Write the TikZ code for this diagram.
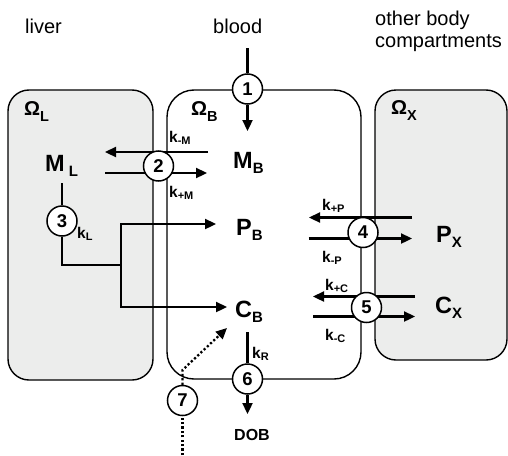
\documentclass[tikz,border=0pt]{standalone}
\usepackage{fontspec}
\setmainfont{Liberation Sans}
\usetikzlibrary{arrows.meta}
\definecolor{boxgray}{RGB}{236,237,236}
\newcommand{\mlab}[3][0pt]{{\fontsize{23.5}{23.5}\selectfont\bfseries #2}\hspace{#1}\raisebox{-5.5pt}{\fontsize{15}{15}\selectfont\bfseries #3}}
\newcommand{\olab}[1]{{\fontsize{20}{20}\selectfont\bfseries Ω}\raisebox{-6pt}{\fontsize{14.5}{14.5}\selectfont\bfseries #1}}
\newcommand{\klab}[1]{{\fontsize{15.5}{15.5}\selectfont\bfseries k}\raisebox{-2pt}{\fontsize{11}{11}\selectfont\bfseries #1}}
\pgfdeclarelayer{boxes}
\pgfdeclarelayer{lines}
\pgfsetlayers{boxes,lines,main}
\tikzset{
  comp/.style={draw, line width=1.4pt},
  num/.style={circle, draw, line width=1.5pt, fill=white, minimum size=30pt, inner sep=0pt, font=\fontsize{18.5}{18.5}\selectfont\bfseries},
  flow/.style={line width=2.3pt},
  arr/.style={flow, -{Triangle[length=11pt,width=10pt]}},
  dots/.style={line width=2.3pt, dash pattern=on 2.2pt off 2.2pt},
  txt/.style={inner sep=0pt, anchor=base west},
  ttl/.style={txt, font=\fontsize{20}{20}\selectfont},
}
\begin{document}
\begin{tikzpicture}[x=1pt, y=-1pt]
\useasboundingbox (0,0) rectangle (508,455);
% compartments
\begin{pgfonlayer}{boxes}
\draw[comp, fill=boxgray, rounded corners=21pt] (8,90) rectangle (153,380);
\draw[comp, fill=white, rounded corners=27pt] (167,90) rectangle (361,379);
\draw[comp, fill=boxgray, rounded corners=21pt] (375,90) rectangle (507,360);
\end{pgfonlayer}
% titles
\node[ttl] (tliver) at (25,33) {liver};
\node[ttl] (tblood) at (213,33) {blood};
\node[ttl] (tother1) at (375,25) {other body};
\node[ttl] (tother2) at (375,47) {compartments};
% compartment names
\node[txt] (oL) at (24,115) {\olab{L}};
\node[txt] (oB) at (191,115) {\olab{B}};
\node[txt] (oX) at (391,114) {\olab{X}};
% species
\node[txt] (ML) at (45,171) {\mlab[4pt]{M}{L}};
\node[txt] (MB) at (233,168) {\mlab{M}{B}};
\node[txt] (PB) at (236,235) {\mlab{P}{B}};
\node[txt] (CB) at (235,317) {\mlab{C}{B}};
\node[txt] (PX) at (436,242) {\mlab{P}{X}};
\node[txt] (CX) at (435,313) {\mlab{C}{X}};
\node[txt, font=\fontsize{16}{16}\selectfont\bfseries] (DOB) at (234,440) {DOB};
% rate constants
\node[txt] (kmM) at (169,142) {\klab{-M}};
\node[txt] (kpM) at (169,197) {\klab{+M}};
\node[txt] (kL) at (77,238) {\klab{L}};
\node[txt] (kpP) at (322,210) {\klab{+P}};
\node[txt] (kmP) at (322,262) {\klab{-P}};
\node[txt] (kpC) at (325,290) {\klab{+C}};
\node[txt] (kmC) at (325,340) {\klab{-C}};
\node[txt] (kR) at (252,358) {\klab{R}};
% process circles
\node[num] (c1) at (247.5,89) {1};
\node[num] (c2) at (158.5,166) {2};
\node[num] (c3) at (62,221) {3};
\node[num] (c4) at (363,232.5) {4};
\node[num] (c5) at (366.5,307.5) {5};
\node[num] (c6) at (247.5,379) {6};
\node[num] (c7) at (182.5,400.5) {7};
% free ends
\coordinate (bt) at (247.5,48);
\coordinate (mbin) at (247.5,131);
\coordinate (m2aR) at (208,152);
\coordinate (m2aL) at (105,152);
\coordinate (m2bL) at (105,173);
\coordinate (m2bR) at (207,173);
\coordinate (mlb) at (62,183);
\coordinate (lj) at (121,265);
\coordinate (pbin) at (216,224);
\coordinate (cbin) at (227,307);
\coordinate (p4aR) at (412,217.5);
\coordinate (p4aL) at (309,217.5);
\coordinate (p4bL) at (308.5,238.5);
\coordinate (p4bR) at (412,238.5);
\coordinate (c5aR) at (415,296.5);
\coordinate (c5aL) at (313,296.5);
\coordinate (c5bL) at (313,316.5);
\coordinate (c5bR) at (415,316.5);
\coordinate (krt) at (247.5,332);
\coordinate (dob) at (247.5,414);
\coordinate (d0) at (182.5,455);
\coordinate (dbend) at (182.5,370);
\coordinate (dtip) at (227,328);
% connectors
\begin{pgfonlayer}{lines}
\draw[flow] (bt) -- (c1);
\draw[arr] (c1) -- (mbin);
\draw[arr] (m2aR) -- (m2aL);
\draw[arr] (m2bL) -- (m2bR);
\draw[flow] (mlb) -- (c3);
\draw[flow] (c3) |- (lj);
\draw[arr] (lj) |- (pbin);
\draw[arr] (lj) |- (cbin);
\draw[arr] (p4aR) -- (p4aL);
\draw[arr] (p4bL) -- (p4bR);
\draw[arr] (c5aR) -- (c5aL);
\draw[arr] (c5bL) -- (c5bR);
\draw[flow] (krt) -- (c6);
\draw[arr] (c6) -- (dob);
\draw[dots] (d0) -- (c7);
\draw[dots, -{Triangle[length=11pt,width=10pt]}] (c7) -- (dbend) -- (dtip);
\end{pgfonlayer}
\end{tikzpicture}
\end{document}
